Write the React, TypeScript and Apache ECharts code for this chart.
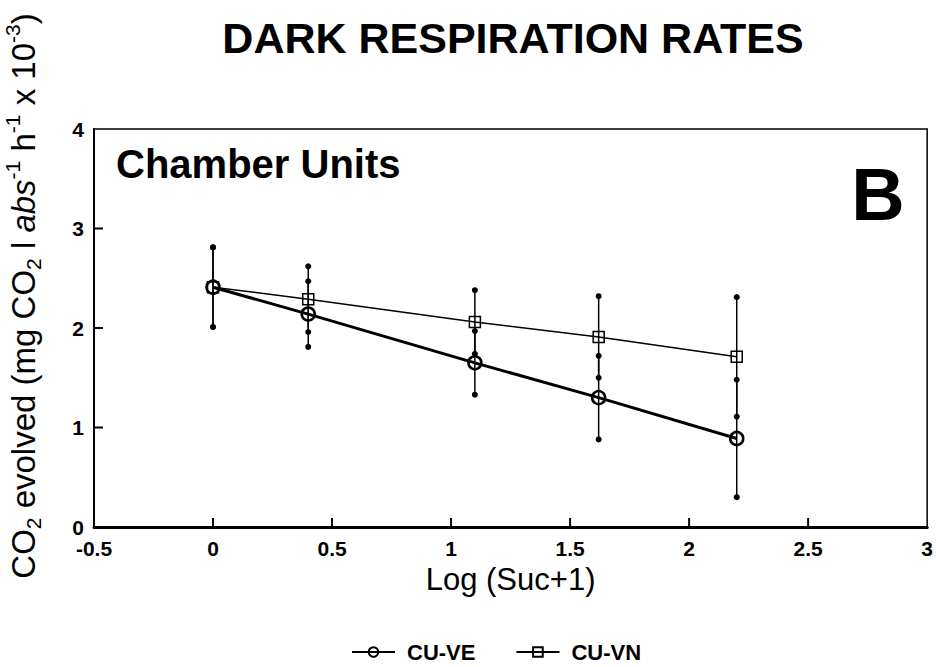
import React, { useEffect, useRef } from "react";
import * as echarts from "echarts";

const titleText = "DARK RESPIRATION RATES";
const panelText = "Chamber Units";
const panelLetter = "B";
const xAxisName = "Log (Suc+1)";
const seriesNames = ["CU-VE", "CU-VN"];

const xValues = [0, 0.4, 1.1, 1.62, 2.2];
const veMean = [2.41, 2.14, 1.65, 1.3, 0.89];
const veError = [0.4, 0.33, 0.32, 0.42, 0.59];
const vnMean = [2.41, 2.29, 2.06, 1.91, 1.71];
const vnError = [0.4, 0.33, 0.32, 0.41, 0.6];

const xTickValues = [0, 0.5, 1, 1.5, 2, 2.5];
const yTickValues = [1, 2, 3];

const FONT = "'Liberation Sans', Arial, Helvetica, sans-serif";

export default function App() {
  const ref = useRef<HTMLDivElement>(null);
  useEffect(() => {
    document.body.style.margin = "0";
    if (!ref.current) return;
    const chart = echarts.init(ref.current, null, { renderer: "svg" });

    const veData = xValues.map((x, i) => [x, veMean[i]]);
    const vnData = xValues.map((x, i) => [x, vnMean[i]]);
    const errData = [
      ...xValues.map((x, i) => [x, veMean[i] - veError[i], veMean[i] + veError[i]]),
      ...xValues.map((x, i) => [x, vnMean[i] - vnError[i], vnMean[i] + vnError[i]]),
    ];
    const tickLen = 9;

    const option: any = {
      animation: false,
      backgroundColor: "#fff",
      textStyle: { fontFamily: FONT, color: "#000" },
      grid: {
        left: 94,
        right: 8,
        top: 129,
        bottom: 140,
        show: true,
        borderColor: "#000",
        borderWidth: 1.5,
        backgroundColor: "transparent",
      },
      legend: {
        data: seriesNames,
        left: 346,
        top: 636,
        itemWidth: 43,
        itemHeight: 12,
        itemGap: 40,
        textStyle: {
          fontFamily: FONT,
          fontSize: 22,
          fontWeight: "bold",
          color: "#000",
          padding: [0, 0, 0, 7],
        },
      },
      xAxis: {
        type: "value",
        min: -0.5,
        max: 3,
        interval: 0.5,
        name: xAxisName,
        nameLocation: "middle",
        nameGap: 29,
        nameTextStyle: { fontFamily: FONT, fontSize: 31, color: "#000" },
        axisLine: { show: true, onZero: false, lineStyle: { color: "#000", width: 3 } },
        axisTick: { show: false },
        axisLabel: {
          margin: 11,
          fontFamily: FONT,
          fontSize: 21,
          fontWeight: "bold",
          color: "#000",
        },
        splitLine: { show: false },
      },
      yAxis: {
        type: "value",
        min: 0,
        max: 4,
        interval: 1,
        axisLine: { show: true, onZero: false, lineStyle: { color: "#000", width: 2 } },
        axisTick: { show: false },
        axisLabel: {
          margin: 10,
          fontFamily: FONT,
          fontSize: 21,
          fontWeight: "bold",
          color: "#000",
        },
        splitLine: { show: false },
      },
      graphic: [
        {
          type: "text",
          x: 513,
          y: 38,
          style: {
            text: titleText,
            font: `bold 43px ${FONT}`,
            fill: "#000",
            align: "center",
            verticalAlign: "middle",
          },
        },
        {
          type: "text",
          x: 116,
          y: 164,
          style: {
            text: panelText,
            font: `bold 40px ${FONT}`,
            fill: "#000",
            align: "left",
            verticalAlign: "middle",
          },
        },
        {
          type: "text",
          x: 878,
          y: 194,
          style: {
            text: panelLetter,
            font: `bold 74px ${FONT}`,
            fill: "#000",
            align: "center",
            verticalAlign: "middle",
          },
        },
        {
          type: "text",
          x: 23,
          y: 296,
          rotation: Math.PI / 2,
          style: {
            text:
              "{b|CO}{sub|2}{b| evolved (mg CO}{sub|2}{b| l }{i|abs}{sup|-1}{b| h}{sup|-1}{b| x 10}{sup|-3}{b|)}",
            align: "center",
            verticalAlign: "middle",
            fill: "#000",
            rich: {
              b: { fontFamily: FONT, fontSize: 33, lineHeight: 42, fill: "#000" },
              i: { fontFamily: FONT, fontSize: 33, fontStyle: "italic", lineHeight: 42, fill: "#000" },
              sub: { fontFamily: FONT, fontSize: 21, lineHeight: 21, verticalAlign: "bottom", fill: "#000" },
              sup: { fontFamily: FONT, fontSize: 21, lineHeight: 21, verticalAlign: "top", fill: "#000" },
            },
          },
        },
      ],
      series: [
        {
          type: "custom",
          name: "xticks",
          z: 4,
          silent: true,
          clip: false,
          data: xTickValues.map((v) => [v, 0]),
          encode: { x: 0, y: 1 },
          renderItem: (params: any, api: any) => {
            const p = api.coord([api.value(0), api.value(1)]);
            return {
              type: "line",
              shape: { x1: p[0], y1: p[1], x2: p[0], y2: p[1] - tickLen },
              style: { stroke: "#000", lineWidth: 2 },
            };
          },
        },
        {
          type: "custom",
          name: "yticks",
          z: 4,
          silent: true,
          clip: false,
          data: yTickValues.map((v) => [-0.5, v]),
          encode: { x: 0, y: 1 },
          renderItem: (params: any, api: any) => {
            const p = api.coord([api.value(0), api.value(1)]);
            return {
              type: "line",
              shape: { x1: p[0], y1: p[1], x2: p[0] + tickLen, y2: p[1] },
              style: { stroke: "#000", lineWidth: 2 },
            };
          },
        },
        {
          type: "custom",
          name: "errors",
          z: 1,
          silent: true,
          data: errData,
          encode: { x: 0, y: [1, 2] },
          renderItem: (params: any, api: any) => {
            const x = api.value(0);
            const lo = api.value(1);
            const hi = api.value(2);
            const pHi = api.coord([x, hi]);
            const pLo = api.coord([x, lo]);
            return {
              type: "group",
              children: [
                {
                  type: "line",
                  shape: { x1: pHi[0], y1: pHi[1], x2: pLo[0], y2: pLo[1] },
                  style: { stroke: "#000", lineWidth: 1.5 },
                },
                { type: "circle", shape: { cx: pHi[0], cy: pHi[1], r: 3 }, style: { fill: "#000" } },
                { type: "circle", shape: { cx: pLo[0], cy: pLo[1], r: 3 }, style: { fill: "#000" } },
              ],
            };
          },
        },
        {
          type: "line",
          name: seriesNames[0],
          z: 3,
          data: veData,
          symbol: "circle",
          symbolSize: 13,
          lineStyle: { color: "#000", width: 3 },
          itemStyle: { color: "rgba(255,255,255,0)", borderColor: "#000", borderWidth: 2.5 },
        },
        {
          type: "line",
          name: seriesNames[1],
          z: 3,
          data: vnData,
          symbol: "rect",
          symbolSize: 11,
          lineStyle: { color: "#000", width: 1.5 },
          itemStyle: { color: "rgba(255,255,255,0)", borderColor: "#000", borderWidth: 1.5 },
        },
      ],
    };
    chart.setOption(option);
    return () => chart.dispose();
  }, []);
  return <div ref={ref} style={{ width: 936, height: 667 }} />;
}
